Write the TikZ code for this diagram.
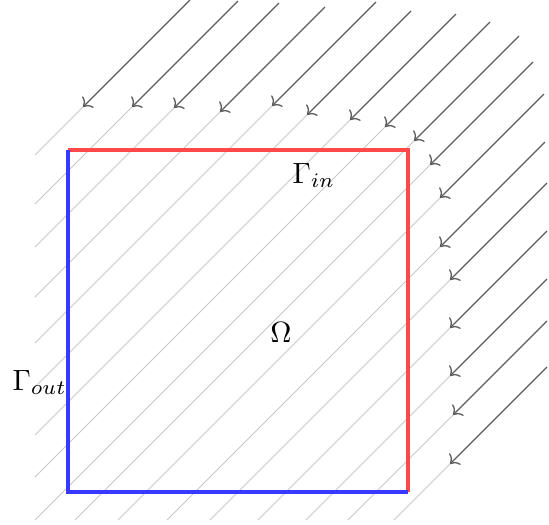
\documentclass[tikz,border=0pt]{standalone}
\usepackage{tikz}
\usetikzlibrary{arrows, arrows.meta, positioning, calc}
\definecolor{inred}{HTML}{FF4848}
\definecolor{outblue}{HTML}{3838FF}
\definecolor{flowgray}{HTML}{5C5C5C}
\definecolor{seedgray}{HTML}{C8C8C8}
\tikzset{
	seedline/.style={
			draw=seedgray,
			line width=0.35pt
		},
	flowline/.style={
			draw=flowgray,
			line width=0.45pt,
			->
		},
	inedge/.style={
			draw=inred,
			line width=1.1pt
		},
	outedge/.style={
			draw=outblue,
			line width=1.1pt
		},
	bdlabel/.style={
			inner sep=0pt,
			text=black
		}
}

\begin{document}
\begin{tikzpicture}[x=0.012cm, y=-0.012cm]

  \useasboundingbox (0,0) rectangle (549,525);

  \foreach \c/\sx/\ax/\ex in {190/35/83/190, 239/35/132/238, 282/35/174/279,
      332/35/220/325, 378/35/272/376, 422/35/307/411, 470/35/350/456,
      512/35/385/490, 555/35/414/519, 595/75/430/533, 638/118/440/544,
      687/167/440/545, 730/210/450/547, 778/258/450/547, 826/306/450/547,
      868/348/453/547, 914/394/450/547}{
    \draw[seedline] (\sx,{\c-\sx}) -- (\ax,{\c-\ax});
    \draw[flowline] (\ex,{\c-\ex}) -- (\ax,{\c-\ax});
  }

  \coordinate (nw) at (68,150);
  \coordinate (ne) at (408,150);
  \coordinate (se) at (408,492);
  \coordinate (sw) at (68,492);

  \draw[inedge] (nw) -- (ne) -- (se);
  \draw[outedge] (nw) -- (sw) -- (se);

  \node[bdlabel, anchor=base west] (gin) at (292,183) {$\Gamma_{in}$};
  \node[bdlabel, anchor=base] (omega) at (281,342) {$\Omega$};
  \node[bdlabel, anchor=base west] (gout) at (12,390) {$\Gamma_{out}$};

\end{tikzpicture}
\end{document}
